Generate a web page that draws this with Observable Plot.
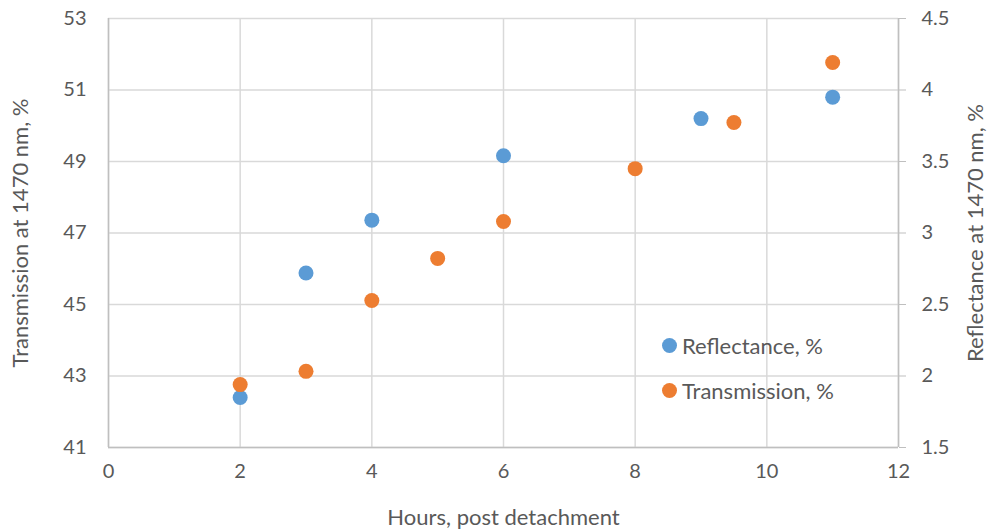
<!DOCTYPE html>
<html><head><meta charset="utf-8">
<script src="https://cdn.jsdelivr.net/npm/d3@7"></script>
<script src="https://cdn.jsdelivr.net/npm/@observablehq/plot@0.6"></script>
<style>
body{margin:0;background:#fff;font-family:Lato,"Open Sans",sans-serif;}
#wrap{position:relative;width:988px;height:531px;}
.legend{position:absolute;left:662px;top:323px;font-size:22px;color:#595959;line-height:45px;}
.legend .item{display:flex;align-items:center;height:45px;}
.legend .sw{width:15px;height:15px;border-radius:50%;margin-right:5px;}
g[aria-label$="axis label"]{font-size:22px;}
</style></head><body><div id="wrap"></div>
<script>
const reflHours=[2,3,4,6,9,11];
const reflValues=[1.85,2.72,3.09,3.54,3.80,3.95];
const transHours=[2,3,4,5,6,8,9.5,11];
const transValues=[42.76,43.13,45.11,46.29,47.32,48.80,50.09,51.77];
const xTicks=[0,2,4,6,8,10,12];
const leftTicks=[41,43,45,47,49,51,53];
const rightTicks=[1.5,2,2.5,3,3.5,4,4.5];
const seriesNames=["Reflectance, %","Transmission, %"];
const colors=["#5B9BD5","#ED7D31"];

// map reflectance (right axis 1.5–4.5) onto transmission scale (41–53)
const toLeft=r=>41+(r-1.5)*4;
const fromLeft=t=>1.5+(t-41)/4;

const refl=reflHours.map((h,i)=>({h,v:toLeft(reflValues[i])}));
const trans=transHours.map((h,i)=>({h,v:transValues[i]}));

const chart=Plot.plot({
  width:988,height:531,
  marginLeft:108,marginRight:90,marginTop:18,marginBottom:84,
  style:{fontFamily:"Lato, 'Open Sans', sans-serif",fontSize:"20px",color:"#595959",background:"white"},
  x:{domain:[0,12]},
  y:{domain:[41,53]},
  marks:[
    Plot.gridX(xTicks,{stroke:"#d9d9d9",strokeOpacity:1,strokeWidth:1.5}),
    Plot.gridY(leftTicks,{stroke:"#d9d9d9",strokeOpacity:1,strokeWidth:1.5}),
    Plot.ruleY([41],{stroke:"#bfbfbf",strokeWidth:1.5}),
    Plot.ruleX([0,12],{stroke:"#bfbfbf",strokeWidth:1.5}),
    Plot.axisX(xTicks,{tickSize:0,tickPadding:16,label:"Hours, post detachment",labelAnchor:"center",labelArrow:"none",labelOffset:77,fill:"#595959"}),
    Plot.axisY(leftTicks,{anchor:"left",tickSize:0,tickPadding:22,label:"Transmission at 1470 nm, %",labelAnchor:"center",labelArrow:"none",labelOffset:96,fill:"#595959"}),
    Plot.axisY(rightTicks.map(toLeft),{anchor:"right",tickSize:7,stroke:"#bfbfbf",tickPadding:16,tickFormat:d=>String(+fromLeft(d).toFixed(2)),label:"Reflectance at 1470 nm, %",labelAnchor:"center",labelArrow:"none",labelOffset:84,fill:"#595959"}),
    Plot.dot(refl,{x:"h",y:"v",r:7.5,fill:colors[0],stroke:null}),
    Plot.dot(trans,{x:"h",y:"v",r:7.5,fill:colors[1],stroke:null})
  ]
});
const wrap=document.getElementById("wrap");
wrap.appendChild(chart);
const lg=document.createElement("div");
lg.className="legend";
seriesNames.forEach((n,i)=>{
  const it=document.createElement("div");it.className="item";
  const sw=document.createElement("span");sw.className="sw";sw.style.background=colors[i];
  const tx=document.createElement("span");tx.textContent=n;
  it.appendChild(sw);it.appendChild(tx);lg.appendChild(it);
});
wrap.appendChild(lg);
</script>
</body></html>
